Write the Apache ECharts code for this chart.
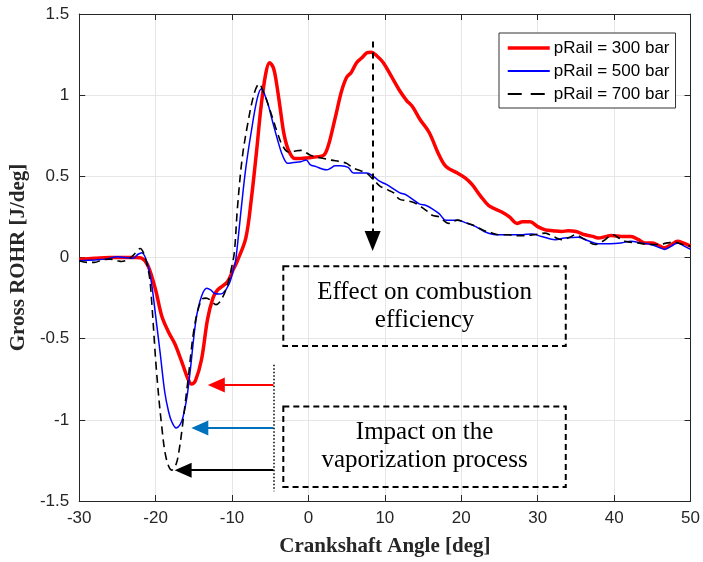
<!DOCTYPE html>
<html><head><meta charset="utf-8">
<script src="https://cdn.jsdelivr.net/npm/echarts@6/dist/echarts.min.js"></script>
<style>html,body{margin:0;padding:0;background:#fff}#c{width:703px;height:562px}</style>
</head><body><div id="c"></div>
<script>
// ---- data ----
const seriesNames = ['pRail = 300 bar', 'pRail = 500 bar', 'pRail = 700 bar'];

const redX = [-30,-28,-26,-24,-22.5,-21.8,-21,-20,-19.2,-18.3,-17.5,-16.6,-15.75,-15.3,-14.8,-14.0,-13.2,-12.5,-11.9,-10.6,-9.8,-9.3,-8.2,-7.5,-6.8,-6.2,-5.6,-5.1,-4.6,-4.2,-3.7,-3.2,-2.6,-1.8,-1,0,1,2,2.6,3.2,3.7,4.3,5,5.6,6.3,7,7.6,8.2,9.0,9.8,10.8,11.9,12.8,13.6,14.6,15.8,17,18,19.5,20.5,21.4,22.5,23.6,25.3,26.3,27.3,28,29,30,31,32,33.1,34,35,36.2,37.2,37.9,39,39.6,41,42.2,43.2,44,45,46,46.6,47.5,48.3,49,50];
const redY = [-0.01,-0.005,0.0,0.0,0.0,-0.005,-0.05,-0.2,-0.36,-0.46,-0.53,-0.64,-0.75,-0.78,-0.76,-0.63,-0.38,-0.25,-0.2,-0.15,-0.07,-0.02,0.12,0.35,0.65,0.93,1.13,1.20,1.17,1.08,0.92,0.76,0.66,0.61,0.61,0.615,0.62,0.63,0.69,0.8,0.9,1.02,1.11,1.14,1.2,1.23,1.26,1.265,1.24,1.2,1.12,1.03,0.97,0.93,0.85,0.77,0.64,0.56,0.52,0.49,0.45,0.38,0.32,0.28,0.25,0.21,0.22,0.22,0.19,0.17,0.165,0.16,0.165,0.16,0.14,0.13,0.12,0.13,0.135,0.13,0.13,0.11,0.09,0.09,0.07,0.06,0.08,0.1,0.09,0.07];

const blueX = [-30,-28,-26.5,-25,-24,-23,-22.3,-21.8,-21.0,-20.5,-20.1,-19.4,-18.8,-18.3,-17.9,-17.3,-16.8,-16.4,-15.9,-15.5,-14.7,-14.0,-13.3,-12.8,-12.3,-11.7,-11.2,-10.35,-9.8,-9.5,-8.8,-8.2,-7.5,-6.7,-6.15,-5.7,-5.2,-4.6,-4.07,-3.4,-2.7,-2,-1,-0.3,0.26,1,1.8,2.4,2.9,3.5,4.2,5.2,5.9,6.6,7.6,8.5,9.3,10.2,11.9,12.8,13.6,14.5,15.4,16.2,17.1,18.0,19.5,20.5,21.9,23,24.5,25.5,26.6,28,29.2,30.5,32.3,33.5,35.3,36.5,37.9,39.5,40.9,42.2,43.5,44.8,46,46.6,47.5,48.3,49,50];
const blueY = [-0.02,-0.015,-0.01,0.005,0.0,-0.005,0.02,0.03,-0.05,-0.17,-0.32,-0.59,-0.83,-0.95,-1.01,-1.05,-1.03,-0.98,-0.86,-0.71,-0.38,-0.24,-0.19,-0.2,-0.22,-0.225,-0.22,-0.16,-0.07,-0.01,0.3,0.55,0.77,0.98,1.04,1.0,0.93,0.82,0.73,0.63,0.58,0.585,0.59,0.6,0.57,0.56,0.545,0.54,0.55,0.565,0.565,0.555,0.52,0.52,0.52,0.5,0.47,0.45,0.4,0.385,0.36,0.33,0.32,0.3,0.27,0.23,0.23,0.215,0.19,0.16,0.14,0.14,0.14,0.14,0.145,0.13,0.11,0.12,0.125,0.105,0.085,0.085,0.09,0.1,0.09,0.08,0.06,0.05,0.07,0.09,0.075,0.05];

const blackX = [-30,-29,-28,-27,-26,-25,-24.5,-23.5,-22.8,-22,-21.6,-21.2,-20.8,-20.5,-19.9,-19.2,-18.6,-17.9,-17.3,-16.9,-16.6,-15.75,-14.9,-14.0,-13.4,-12.9,-12.1,-11.4,-10.6,-10.1,-9.7,-9.3,-8.7,-8.0,-7.1,-6.45,-5.9,-5.4,-4.7,-4.07,-3.4,-2.6,-1.8,-1.0,0.26,1,2,3,4.2,5,5.9,6.8,7.6,8.5,9.35,10.2,11.1,11.9,12.8,13.7,14.5,15.4,16.2,17.1,18.4,19.5,20.5,21.5,22.8,24.1,25,26.2,27,28.3,29.5,31,32,33.2,34.2,34.9,36.2,37.5,38.5,39.9,40.6,41.4,43.1,44.5,45.7,47,47.8,49,50];
const blackY = [-0.02,-0.03,-0.03,-0.015,-0.01,-0.02,-0.025,-0.01,0.02,0.055,0.03,-0.03,-0.12,-0.28,-0.69,-1.04,-1.24,-1.31,-1.27,-1.18,-1.08,-0.75,-0.42,-0.26,-0.25,-0.26,-0.29,-0.26,-0.17,-0.07,0.03,0.3,0.6,0.81,1.01,1.07,1.02,0.96,0.86,0.77,0.69,0.65,0.655,0.66,0.63,0.62,0.61,0.6,0.59,0.58,0.55,0.535,0.52,0.48,0.44,0.42,0.4,0.36,0.35,0.34,0.32,0.29,0.26,0.25,0.21,0.23,0.215,0.2,0.17,0.15,0.14,0.14,0.135,0.135,0.14,0.15,0.13,0.11,0.125,0.14,0.11,0.08,0.1,0.14,0.12,0.1,0.09,0.08,0.08,0.09,0.095,0.08,0.07];

// annotations (data coordinates)
const boxTexts = ['Effect on combustion\nefficiency', 'Impact on the\nvaporization process'];
const boxXRange = [-3.29, 33.67];
const box1Y = [-0.0535, -0.545];
const box2Y = [-0.918, -1.413];
const dividerX = -4.58;
const dividerY = [-0.66, -1.44];
const arrowTipsX = [-13.16, -15.32, -17.5];
const arrowY = [-0.785, -1.05, -1.31];
const arrowColors = ['#ff0000', '#0072bd', '#000000'];
const downArrowX = 8.4;
const downArrowY = [1.33, 0.049];

// ---- build ----
const pxPerDegX = 7.7, pxPerUnitY = 162.6, headLen = 17, headW = 15;
const zip = (xs, ys) => xs.map((x, i) => [x, ys[i]]);

const arrowLines = arrowTipsX.map((tx, i) => [
  {coord: [dividerX, arrowY[i]], symbol: 'none',
   lineStyle: {color: arrowColors[i], width: 2, type: 'solid'}, itemStyle: {color: arrowColors[i]}},
  {coord: [tx + headLen / 2 / pxPerDegX, arrowY[i]], symbol: 'triangle', symbolSize: [headW, headLen]}
]);

const markLineData = [
  ...arrowLines,
  [
    {coord: [downArrowX, downArrowY[0]], symbol: 'none', lineStyle: {color: '#000', width: 2, type: [6, 5]}, itemStyle: {color: '#000'}},
    {coord: [downArrowX, downArrowY[1] + headLen / 2 / pxPerUnitY], symbol: 'triangle', symbolSize: [16, 20]}
  ],
  [
    {coord: [dividerX, dividerY[0]], symbol: 'none', lineStyle: {color: '#000', width: 1.5, type: [1.5, 2]}},
    {coord: [dividerX, dividerY[1]], symbol: 'none'}
  ]
];

const boxLabel = {show: true, position: 'inside', color: '#000', fontFamily: 'Liberation Serif', fontSize: 25, lineHeight: 28};
const boxStyle = {color: 'rgba(0,0,0,0)', borderColor: '#000', borderWidth: 2, borderType: [6, 4]};

const legendLineStyles = [
  {width: 3.5, type: 'solid'},
  {width: 1.8, type: 'solid'},
  {width: 1.8, type: [14, 9]}
];

const option = {
  animation: false,
  backgroundColor: '#fff',
  grid: {left: 77, right: 10, top: 14, bottom: 60, containLabel: false},
  legend: {
    data: seriesNames.map((n, i) => ({name: n, lineStyle: legendLineStyles[i]})),
    orient: 'vertical',
    left: 499, top: 33,
    padding: [5, 6, 4, 7],
    itemGap: 3,
    itemWidth: 42, itemHeight: 14,
    backgroundColor: '#fff',
    borderColor: '#333', borderWidth: 1,
    itemStyle: {opacity: 0},
    textStyle: {fontFamily: 'Liberation Sans', fontSize: 17, color: '#000', lineHeight: 20, padding: [0, 0, 0, -1]}
  },
  xAxis: [{
    type: 'value', min: -30, max: 50, interval: 10,
    name: 'Crankshaft Angle [deg]', nameLocation: 'middle', nameGap: 35,
    nameTextStyle: {fontFamily: 'Liberation Serif', fontWeight: 'bold', fontSize: 21, color: '#262626'},
    axisLine: {show: true, onZero: false, lineStyle: {color: '#262626', width: 1}},
    axisTick: {show: true, inside: true, length: 6, lineStyle: {color: '#262626'}},
    axisLabel: {fontFamily: 'Liberation Sans', fontSize: 17, color: '#262626', margin: 9},
    splitLine: {show: true, lineStyle: {color: '#e6e6e6', width: 1}}
  }, {
    type: 'value', min: -30, max: 50, interval: 10, position: 'top',
    axisLine: {show: true, onZero: false, lineStyle: {color: '#262626', width: 1}},
    axisTick: {show: true, inside: true, length: 6, lineStyle: {color: '#262626'}},
    axisLabel: {show: false}, splitLine: {show: false}
  }],
  yAxis: [{
    type: 'value', min: -1.5, max: 1.5, interval: 0.5,
    name: 'Gross ROHR [J/deg]', nameLocation: 'middle', nameGap: 42,
    nameTextStyle: {fontFamily: 'Liberation Serif', fontWeight: 'bold', fontSize: 21, color: '#262626'},
    axisLine: {show: true, onZero: false, lineStyle: {color: '#262626', width: 1}},
    axisTick: {show: true, inside: true, length: 6, lineStyle: {color: '#262626'}},
    axisLabel: {fontFamily: 'Liberation Sans', fontSize: 17, color: '#262626', margin: 10},
    splitLine: {show: true, lineStyle: {color: '#e6e6e6', width: 1}}
  }, {
    type: 'value', min: -1.5, max: 1.5, interval: 0.5, position: 'right',
    axisLine: {show: true, onZero: false, lineStyle: {color: '#262626', width: 1}},
    axisTick: {show: true, inside: true, length: 6, lineStyle: {color: '#262626'}},
    axisLabel: {show: false}, splitLine: {show: false}
  }],
  series: [
    {name: seriesNames[0], type: 'line', data: zip(redX, redY), symbol: 'none', smooth: 0.35,
     color: '#ff0000', lineStyle: {color: '#ff0000', width: 3.5}, z: 2},
    {name: seriesNames[1], type: 'line', data: zip(blueX, blueY), symbol: 'none', smooth: 0.35,
     color: '#0000ff', lineStyle: {color: '#0000ff', width: 1.5}, z: 3},
    {name: seriesNames[2], type: 'line', data: zip(blackX, blackY), symbol: 'none', smooth: 0.35,
     color: '#000000', lineStyle: {color: '#000000', width: 1.6, type: [8, 5]}, z: 4},
    {name: 'annotations', type: 'line', data: [], symbol: 'none', silent: true, z: 5,
     markLine: {silent: true, animation: false, label: {show: false}, emphasis: {disabled: true},
                symbol: ['none', 'triangle'], data: markLineData},
     markArea: {silent: true, animation: false, emphasis: {disabled: true}, itemStyle: boxStyle, label: boxLabel,
                data: [
                  [{name: boxTexts[0], coord: [boxXRange[0], box1Y[0]]}, {coord: [boxXRange[1], box1Y[1]]}],
                  [{name: boxTexts[1], coord: [boxXRange[0], box2Y[0]]}, {coord: [boxXRange[1], box2Y[1]]}]
                ]}
    }
  ]
};
const chart = echarts.init(document.getElementById('c'), null, {renderer: 'canvas'});
chart.setOption(option);
</script></body></html>
